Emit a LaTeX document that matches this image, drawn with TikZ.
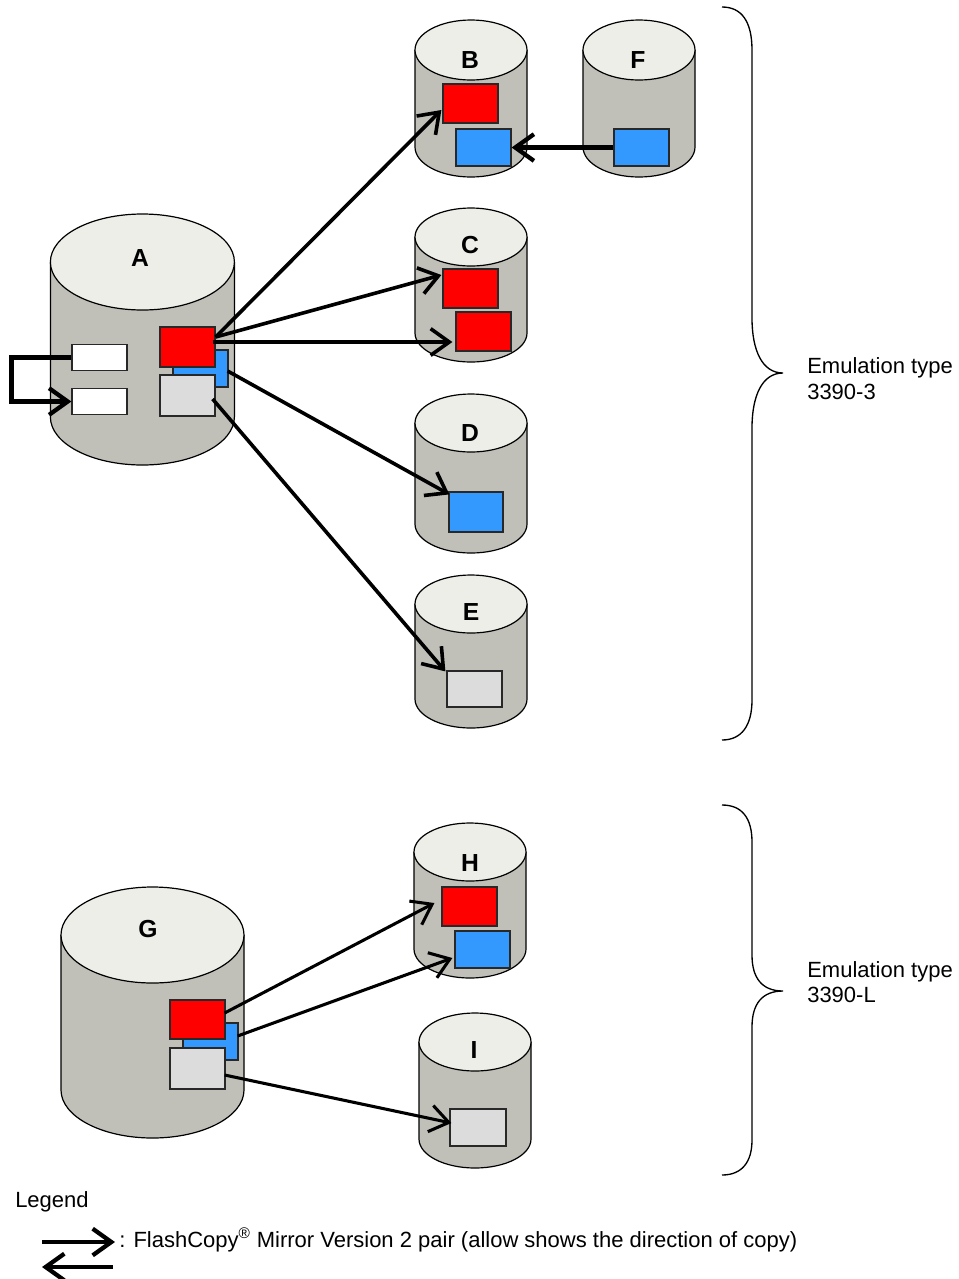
\documentclass[tikz,border=0pt]{standalone}
\usepackage{fontspec}
\setmainfont{Liberation Sans}
\usetikzlibrary{arrows.meta,calc}
\definecolor{cylbody}{RGB}{192,192,184}
\definecolor{cyltop}{RGB}{238,238,232}
\definecolor{cred}{RGB}{255,0,0}
\definecolor{cblue}{RGB}{51,153,255}
\definecolor{cgrey}{RGB}{220,220,220}
\definecolor{boxline}{RGB}{40,40,40}
\tikzset{
  box/.style={draw=boxline, line width=0.9pt, inner sep=0pt, minimum width=41.25pt, minimum height=29.25pt},
  redbox/.style={box, fill=cred},
  bluebox/.style={box, fill=cblue},
  greybox/.style={box, fill=cgrey},
  whitebox/.style={box, fill=white, minimum height=20pt},
  cylline/.style={draw=black, line width=0.9pt},
  lbl/.style={font=\fontsize{18.5}{20}\selectfont\bfseries, inner sep=0pt},
  txt/.style={font=\fontsize{16.5}{19.5}\selectfont, inner sep=0pt},
  copyarrow/.style={line width=2.7pt, -{Straight Barb[length=14pt,width=20pt]}},
  thinarrow/.style={line width=2.3pt, -{Straight Barb[length=14pt,width=20pt]}},
  heavyarrow/.style={line width=3.2pt, -{Straight Barb[length=14pt,width=20pt]}},
  bracestyle/.style={draw=black, line width=1pt},
}
\newcommand\drawcyl[5]{% cx, top centre y, rx, ry, bottom centre y
  \fill[cylbody] (#1-#3,#2) -- (#1-#3,#5) arc[start angle=180,end angle=0,x radius=#3,y radius=#4] -- (#1+#3,#2) -- cycle;
  \draw[cylline] (#1-#3,#2) -- (#1-#3,#5) arc[start angle=180,end angle=0,x radius=#3,y radius=#4] -- (#1+#3,#2);
  \filldraw[cylline, fill=cyltop] (#1,#2) ellipse[x radius=#3, y radius=#4];
}
\begin{document}
\begin{tikzpicture}[x=0.75pt,y=-0.75pt]
\useasboundingbox (0,0) rectangle (959,1279);
\fill[white] (0,0) rectangle (959,1279);

% cylinders
\drawcyl{142.4}{262}{92}{48}{417}
\drawcyl{471}{50}{56}{30}{147}
\drawcyl{639}{50}{56}{30}{147}
\drawcyl{471}{237}{56}{29}{333}
\drawcyl{471}{423}{56}{29}{524}
\drawcyl{471}{604}{56}{29}{699}
\drawcyl{152.5}{935}{91.5}{48}{1090}
\drawcyl{470}{852}{56}{29}{949}
\drawcyl{475}{1042}{56}{29}{1139}

% labels
\node[lbl] (A) at (140,258) {A};
\node[lbl] (B) at (470,60) {B};
\node[lbl] (F) at (638,60) {F};
\node[lbl] (C) at (470,245) {C};
\node[lbl] (D) at (470,433) {D};
\node[lbl] (E) at (471,612) {E};
\node[lbl] (G) at (148,929) {G};
\node[lbl] (H) at (470,863) {H};
\node[lbl] (I) at (474,1050) {I};

% boxes in A
\node[whitebox] (aw1) at (99.5,357.5) {};
\node[whitebox] (aw2) at (99.5,401.5) {};
\node[bluebox, minimum height=27.75pt] (ablue) at (200.5,368.5) {};
\node[redbox, minimum height=30pt] (ared) at (187.5,347) {};
\node[greybox, minimum height=30.75pt] (agrey) at (187.5,395.5) {};
% boxes in B, F, C, D, E
\node[redbox] (bred) at (470.5,103.5) {};
\node[bluebox, minimum height=27.75pt] (bblue) at (483.5,147.5) {};
\node[bluebox, minimum height=27.75pt] (fblue) at (641.5,147.5) {};
\node[redbox] (cred1) at (470.5,288.5) {};
\node[redbox] (cred2) at (483.5,331.5) {};
\node[bluebox, minimum height=30pt, minimum width=40.5pt] (dblue) at (476,512) {};
\node[greybox, minimum height=27pt] (egrey) at (474.5,689) {};
% boxes in G, H, I
\node[bluebox, minimum height=27.75pt] (gblue) at (210.5,1041.5) {};
\node[redbox] (gred) at (197.5,1019.5) {};
\node[greybox, minimum height=30.75pt] (ggrey) at (197.5,1068.5) {};
\node[redbox] (hred) at (469.5,906.5) {};
\node[bluebox, minimum height=27.75pt] (hblue) at (482.5,949.5) {};
\node[greybox, minimum height=27.75pt, minimum width=42pt] (igrey) at (478,1127.5) {};

% connectors
\draw[heavyarrow] (aw1.west) -- ++(-60,0) |- (aw2.west);
\coordinate (ao) at ($(ared.east)+(0,-10)$);
\draw[copyarrow] (ao) -- ($(bred.west)+(-1,6.5)$);
\draw[copyarrow] (ao) -- ($(cred1.west)+(-1,-13.5)$);
\draw[copyarrow] ($(ared.east)+(-3,-5)$) -- ($(cred2.west)+(-3,10.5)$);
\draw[copyarrow] ($(ablue.east)+(-1,2.5)$) -- ($(dblue.north west)+(1,3)$);
\draw[copyarrow] ($(agrey.east)+(-3,3.5)$) -- ($(egrey.north west)+(-1,1)$);
\draw[heavyarrow] (fblue.west) -- (bblue.east);

\draw[thinarrow] ($(gred.east)+(-1,-6.5)$) -- ($(hred.west)+(-7,-3.5)$);
\draw[thinarrow] ($(gblue.east)+(-1,-5.5)$) -- ($(hblue.west)+(-2,8.5)$);
\draw[thinarrow] ($(ggrey.east)+(-1,6.5)$) -- ($(igrey.west)+(2,-4.5)$);

% braces
\draw[bracestyle] (722,7) .. controls (742,7) and (752,22) .. (752,50) -- (752,318)
  .. controls (752,350) and (762,373) .. (783,373)
  .. controls (762,373) and (752,396) .. (752,428) -- (752,700)
  .. controls (752,725) and (742,740) .. (722,740);
\draw[bracestyle] (722,805) .. controls (742,805) and (752,818) .. (752,842) -- (752,955)
  .. controls (752,978) and (762,991) .. (783,991)
  .. controls (762,991) and (752,1004) .. (752,1027) -- (752,1140)
  .. controls (752,1162) and (742,1175) .. (722,1175);

\node[txt, anchor=base west] (e1a) at (807,373) {Emulation type};
\node[txt, anchor=base west] (e1b) at (807,399) {3390-3};
\node[txt, anchor=base west] (e2a) at (807,977) {Emulation type};
\node[txt, anchor=base west] (e2b) at (807,1002) {3390-L};

% legend
\node[txt, anchor=base west] (leg) at (15,1207) {Legend};
\coordinate (l1s) at (42,1242);
\coordinate (l1e) at (115,1242);
\coordinate (l2s) at (113,1267);
\coordinate (l2e) at (42,1267);
\draw[heavyarrow] (l1s) -- (l1e);
\draw[heavyarrow] (l2s) -- (l2e);
\node[txt, anchor=base west] (legtxt) at (119,1247) {: FlashCopy\textsuperscript{®} Mirror Version 2 pair (allow shows the direction of copy)};
\end{tikzpicture}
\end{document}
